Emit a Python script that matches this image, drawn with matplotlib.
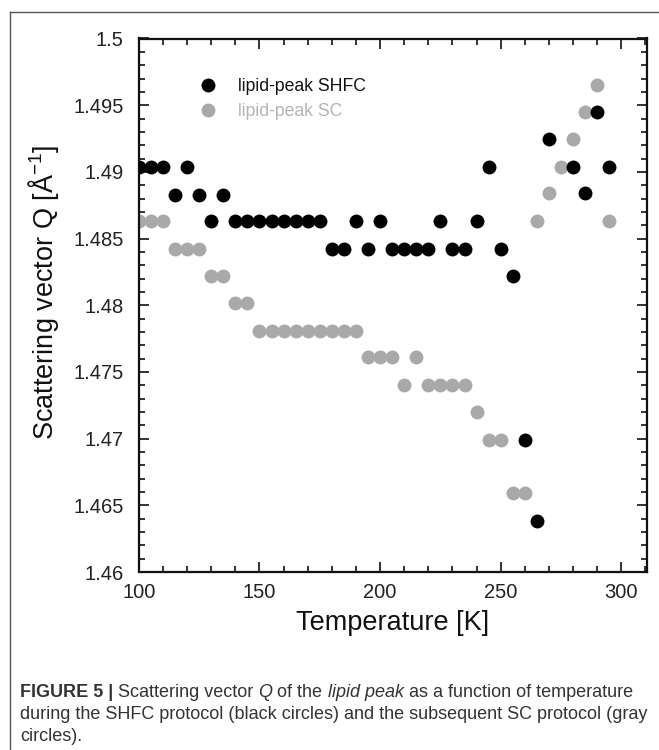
import matplotlib

matplotlib.use("Agg")
import matplotlib.pyplot as plt
from matplotlib.lines import Line2D
from matplotlib.ticker import MultipleLocator

# temperature [K] and Q [1/Angstrom]
shfc_T = [100, 105, 110, 115, 120, 125, 130, 135, 140, 145, 150, 155, 160, 165,
          170, 175, 180, 185, 190, 195, 200, 205, 210, 215, 220, 225, 230, 235,
          240, 245, 250, 255, 260, 265, 270, 280, 285, 290, 295]
shfc_Q = [1.4904, 1.4904, 1.4904, 1.4883, 1.4904, 1.4883, 1.4863, 1.4883,
          1.4863, 1.4863, 1.4863, 1.4863, 1.4863, 1.4863, 1.4863, 1.4863,
          1.4842, 1.4842, 1.4863, 1.4842, 1.4863, 1.4842, 1.4842, 1.4842,
          1.4842, 1.4863, 1.4842, 1.4842, 1.4863, 1.4904, 1.4842, 1.4822,
          1.4699, 1.4638, 1.4925, 1.4904, 1.4884, 1.4945, 1.4904]

sc_T = [100, 105, 110, 115, 120, 125, 130, 135, 140, 145, 150, 155, 160, 165,
        170, 175, 180, 185, 190, 195, 200, 205, 210, 215, 220, 225, 230, 235,
        240, 245, 250, 255, 260, 265, 270, 275, 280, 285, 290, 295]
sc_Q = [1.4863, 1.4863, 1.4863, 1.4842, 1.4842, 1.4842, 1.4822, 1.4822,
        1.4802, 1.4802, 1.4781, 1.4781, 1.4781, 1.4781, 1.4781, 1.4781,
        1.4781, 1.4781, 1.4781, 1.4761, 1.4761, 1.4761, 1.4740, 1.4761,
        1.4740, 1.4740, 1.4740, 1.4740, 1.4720, 1.4699, 1.4699, 1.4659,
        1.4659, 1.4863, 1.4884, 1.4904, 1.4925, 1.4945, 1.4965, 1.4863]

x_ticks = [100, 150, 200, 250, 300]
y_ticks = [1.46, 1.465, 1.47, 1.475, 1.48, 1.485, 1.49, 1.495, 1.5]
y_ticklabels = ["1.46", "1.465", "1.47", "1.475", "1.48", "1.485", "1.49", "1.495", "1.5"]

BLACK = "#000000"
GRAY = "#a9a9a9"
MS = 10

plt.rcParams["font.family"] = ["Liberation Sans", "DejaVu Sans"]
plt.rcParams["mathtext.fontset"] = "custom"
plt.rcParams["mathtext.rm"] = "Liberation Sans"

W, H = 659, 750
fig = plt.figure(figsize=(W / 100, H / 100), dpi=100)
ax = fig.add_axes([138.8 / W, 1 - 572 / H, (646.7 - 138.8) / W, (572 - 38.5) / H])

ax.plot(sc_T, sc_Q, "o", color=GRAY, markersize=MS, markeredgewidth=0, zorder=2)
ax.plot(shfc_T, shfc_Q, "o", color=BLACK, markersize=MS, markeredgewidth=0, zorder=3)

ax.set_xlim(100, 310.5)
ax.set_ylim(1.46, 1.5)
ax.set_xticks(x_ticks)
ax.set_yticks(y_ticks)
ax.set_yticklabels(y_ticklabels)
ax.xaxis.set_minor_locator(MultipleLocator(10))
ax.yaxis.set_minor_locator(MultipleLocator(0.001))
ax.tick_params(which="both", direction="in", top=True, right=True, colors="#111111",
               labelcolor="#222222", labelsize=14.5, width=1.2)
ax.tick_params(which="major", length=7)
ax.tick_params(axis="y", which="major", pad=11)
ax.tick_params(axis="x", which="major", pad=8)
ax.tick_params(which="minor", length=4)
for s in ax.spines.values():
    s.set_linewidth(1.6)
    s.set_color("#111111")

ax.set_xlabel("Temperature [K]", fontsize=19.5, color="#111111", labelpad=6)
ax.set_ylabel("Scattering vector Q [Å$^{\\mathregular{-1}}$]", fontsize=19.5,
              color="#111111")
ax.yaxis.set_label_coords(-0.153, 0.524)

handles = [Line2D([], [], marker="o", ls="", color=BLACK, markersize=MS, markeredgewidth=0),
           Line2D([], [], marker="o", ls="", color=GRAY, markersize=MS, markeredgewidth=0)]
leg = ax.legend(handles, ["lipid-peak SHFC", "lipid-peak SC"], loc="upper left",
                bbox_to_anchor=(0.07, 0.956), frameon=False, fontsize=12.7,
                handletextpad=0.7, labelspacing=0.45)
leg.get_texts()[0].set_color("#111111")
leg.get_texts()[1].set_color("#b4b4b4")

# page frame around the figure
fig.add_artist(Line2D([10 / W, 1], [1 - 12 / H, 1 - 12 / H], transform=fig.transFigure,
                      color="#555555", lw=1.0))
fig.add_artist(Line2D([10 / W, 10 / W], [0, 1 - 12 / H], transform=fig.transFigure,
                      color="#555555", lw=1.0))

# caption with mixed bold/italic runs
caption = [
    [("FIGURE 5 |", "bold", "normal"), (" Scattering vector ", "normal", "normal"),
     ("Q", "normal", "italic"), (" of the ", "normal", "normal"),
     ("lipid peak", "normal", "italic"),
     (" as a function of temperature", "normal", "normal")],
    [("during the SHFC protocol (black circles) and the subsequent SC protocol (gray",
      "normal", "normal")],
    [("circles).", "normal", "normal")],
]
renderer = fig.canvas.get_renderer()
baselines = [697, 719, 741]
for line, yb in zip(caption, baselines):
    x = 20
    for txt, weight, style in line:
        t = fig.text(x / W, 1 - yb / H, txt, fontsize=13.0, weight=weight, style=style,
                     color="#333333", va="baseline")
        x += t.get_window_extent(renderer).width

fig.savefig("out.png", dpi=100)
